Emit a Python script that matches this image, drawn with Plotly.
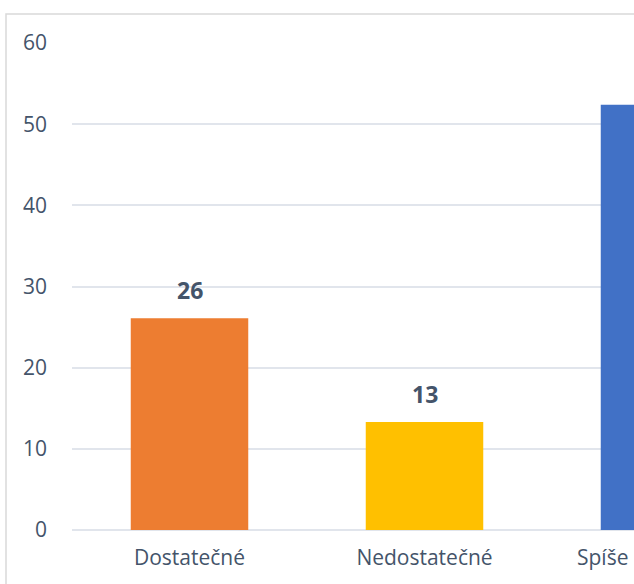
import plotly.graph_objects as go

categories = ["Dostatečné", "Nedostatečné", "Spíše dostatečné"]
values = [26.1, 13.3, 52.4]
colors = ["#ED7D31", "#FFC000", "#4171C6"]
y_ticks = [0, 10, 20, 30, 40, 50, 60]

W, H = 634, 584
L, R, T, B = 72, 0, 43, 54
x_range = [-0.5, -0.5 + (W - L - R) / 235.0]

font_family = "Open Sans"
text_color = "#44546A"

fig = go.Figure()
fig.add_trace(go.Bar(
    x=list(range(len(categories))),
    y=values,
    marker=dict(color=colors, line=dict(width=0)),
    width=0.5,
    hoverinfo="skip",
    cliponaxis=True,
))

annotations = []
for i, v in enumerate(values):
    annotations.append(dict(
        x=i, y=v, xref="x", yref="y",
        text=f"{v:.0f}", showarrow=False,
        yanchor="bottom", yshift=10,
        font=dict(family=font_family, size=23, color=text_color, weight="bold"),
    ))

# category label of the partly visible third bar (its tick lies past the visible range)
span = x_range[1] - x_range[0]
for i, c in enumerate(categories):
    fx = (i - x_range[0]) / span
    if fx > 1:
        annotations.append(dict(
            x=fx, y=0, xref="paper", yref="paper",
            text=c, showarrow=False, xanchor="center", yanchor="middle",
            yshift=-27,
            font=dict(family=font_family, size=21, color=text_color),
        ))

plot_w = W - L - R
plot_h = H - T - B
fig.update_layout(
    width=W, height=H,
    margin=dict(l=L, r=R, t=T, b=B, pad=0),
    paper_bgcolor="white", plot_bgcolor="white",
    showlegend=False,
    font=dict(family=font_family, color=text_color),
    annotations=annotations,
    shapes=[dict(
        type="rect", xref="paper", yref="paper", layer="below",
        x0=(6 - L) / plot_w, x1=1.2,
        y0=-0.3, y1=(H - B - 14) / plot_h,
        line=dict(color="#D9D9D9", width=1.5), fillcolor="rgba(0,0,0,0)",
    )],
    xaxis=dict(
        range=x_range, tickmode="array",
        tickvals=list(range(len(categories))), ticktext=categories,
        showgrid=False, zeroline=False, showline=False, ticks="",
        tickfont=dict(family=font_family, size=21, color=text_color),
        ticklabelstandoff=13, fixedrange=True,
    ),
    yaxis=dict(
        range=[0, 60], tickmode="array", tickvals=y_ticks,
        showgrid=True, gridcolor="#E1E5EC", gridwidth=1.5,
        zeroline=True, zerolinecolor="#E1E5EC", zerolinewidth=1.5,
        showline=False, ticks="",
        tickfont=dict(family=font_family, size=21, color=text_color),
        ticklabelstandoff=24, fixedrange=True,
    ),
)

fig.write_html(
    "out.html",
    config={"displayModeBar": False},
    post_script="document.body.style.margin='0';document.body.style.overflow='hidden';",
)
